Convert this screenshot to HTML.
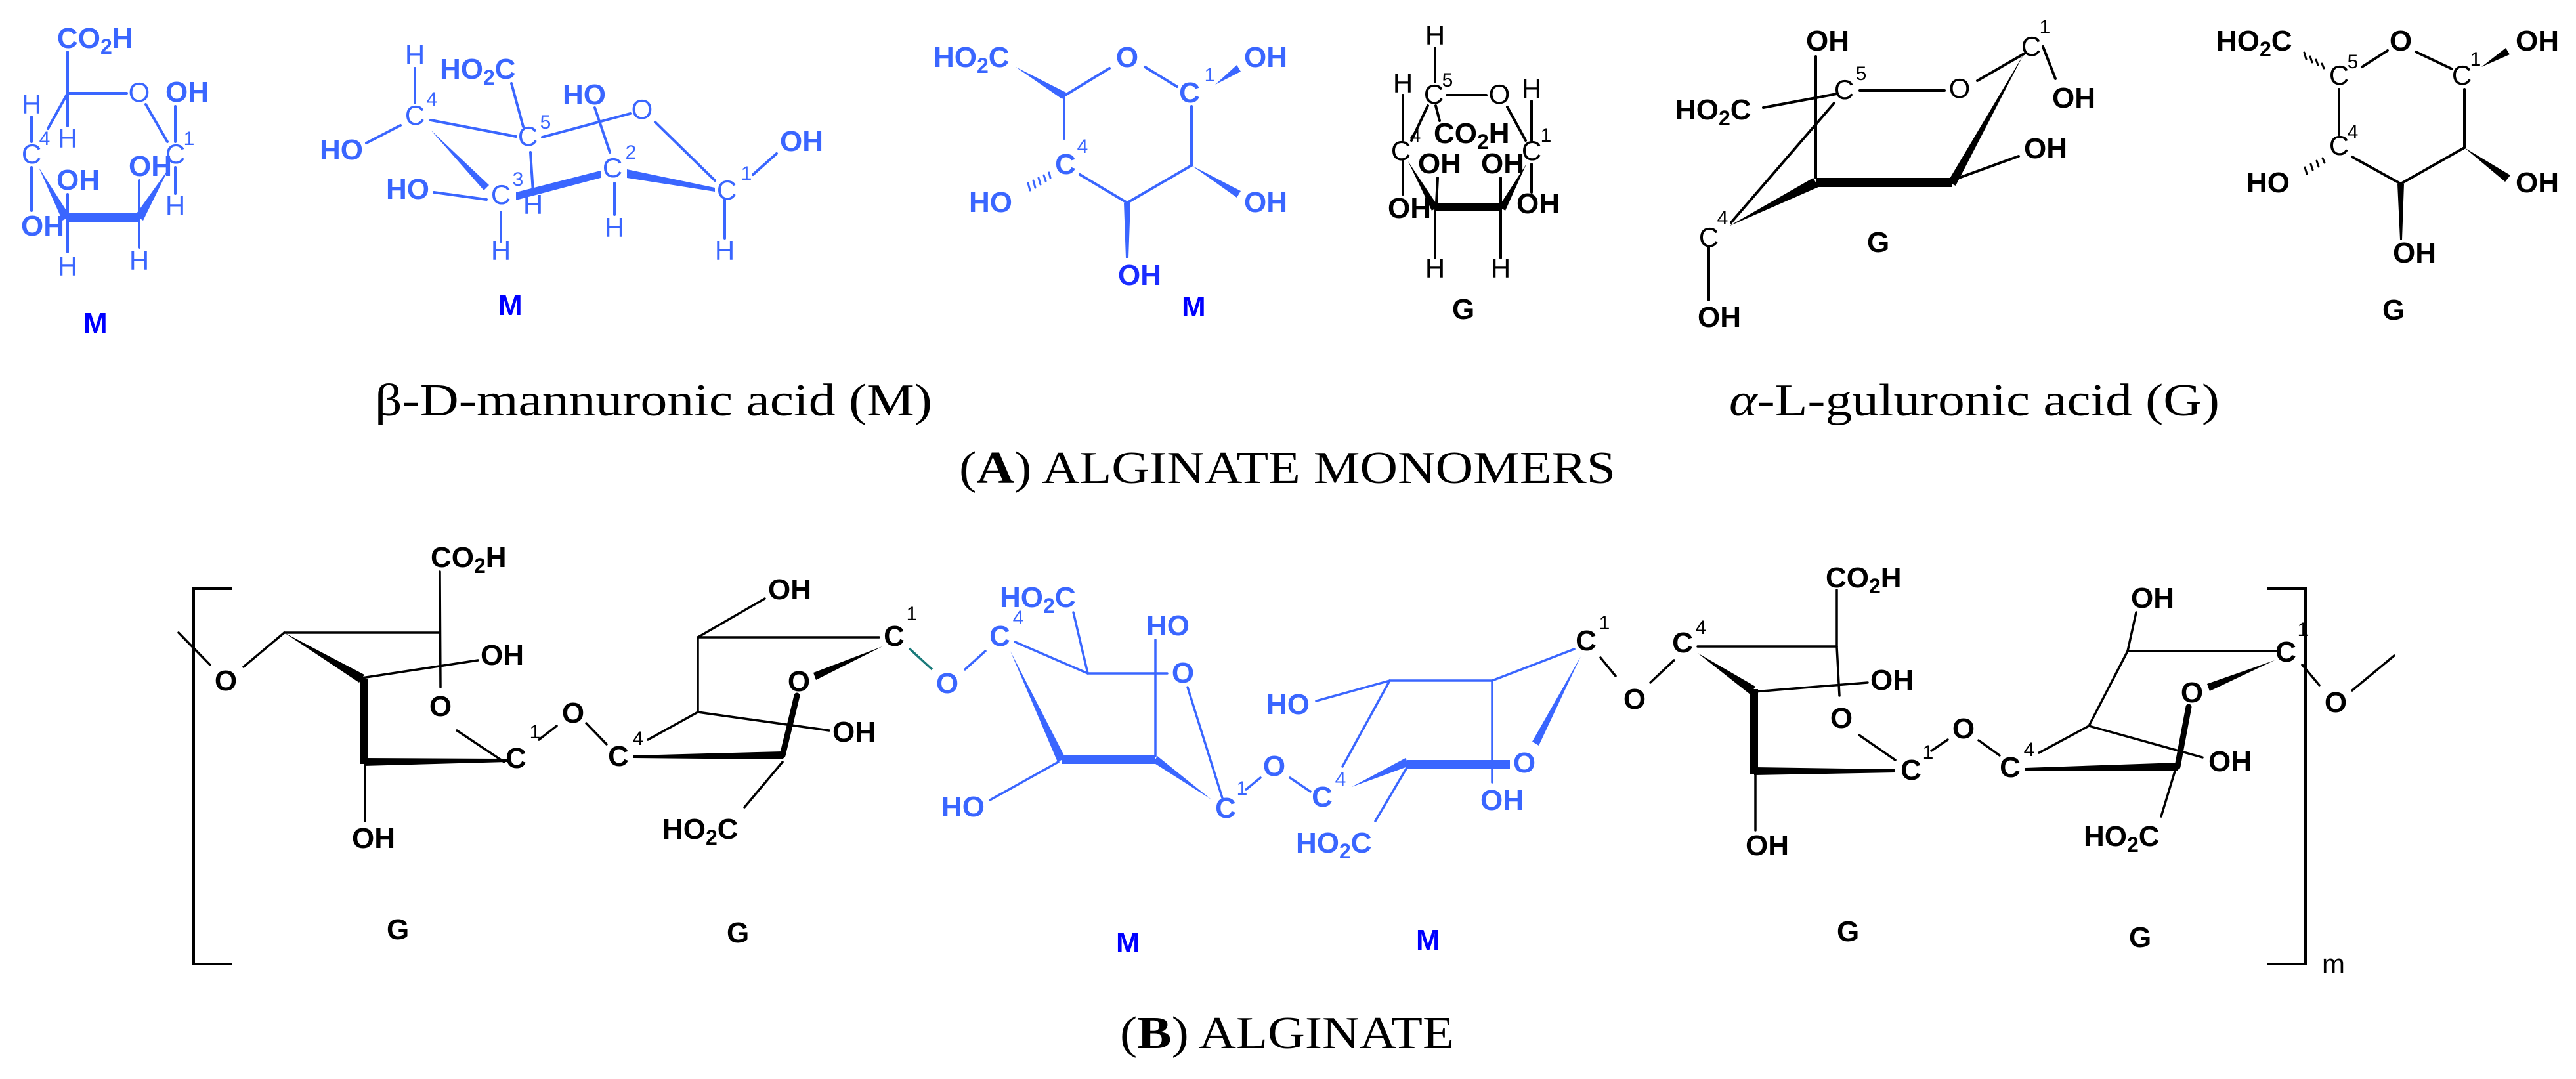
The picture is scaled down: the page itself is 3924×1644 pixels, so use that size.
<!DOCTYPE html>
<html><head><meta charset="utf-8"><style>
html,body{margin:0;padding:0;background:#fff;}
svg{display:block}
.b{font-family:"Liberation Sans",sans-serif;font-weight:bold;font-size:44px}
.r{font-family:"Liberation Sans",sans-serif;font-size:42px}
.s{font-family:"Liberation Sans",sans-serif;font-size:30px}
.cap{font-family:"Liberation Serif",serif;font-size:70px}
.bl{fill:#3a66ff}
.k{fill:#000}
.lab{fill:#0000ff;font-family:"Liberation Sans",sans-serif;font-weight:bold;font-size:44px}
</style></head><body>
<svg width="3924" height="1644" viewBox="0 0 3924 1644" xmlns="http://www.w3.org/2000/svg">
<rect width="3924" height="1644" fill="#fff"/>

<!-- ========== STRUCTURE 1 (blue) ========== -->
<g stroke="#3a66ff" stroke-width="4" fill="none" stroke-linecap="round">
<line x1="103" y1="79" x2="103" y2="192"/>
<line x1="103" y1="142" x2="193" y2="142"/>
<line x1="103" y1="142" x2="73" y2="196"/>
<line x1="48" y1="178" x2="48" y2="216"/>
<line x1="222" y1="159" x2="255" y2="216"/>
<line x1="267" y1="162" x2="267" y2="216"/>
<line x1="267" y1="255" x2="267" y2="295"/>
<line x1="48" y1="255" x2="48" y2="321"/>
<line x1="103" y1="296" x2="103" y2="325"/>
<line x1="103" y1="339" x2="103" y2="384"/>
<line x1="212" y1="275" x2="212" y2="322"/>
<line x1="212" y1="336" x2="212" y2="377"/>
</g>
<g fill="#3a66ff">
<polygon points="59,255 107,330 95,336"/>
<polygon points="257,257 218,336 206,328"/>
<rect x="101" y="325" width="113" height="14"/>
</g>
<g class="bl">
<text class="b" x="87" y="73">CO<tspan font-size="32" dy="9">2</tspan><tspan dy="-9">H</tspan></text>
<text class="r" x="212" y="155" text-anchor="middle">O</text>
<text class="b" x="252" y="155">OH</text>
<text class="r" x="48" y="173" text-anchor="middle">H</text>
<text class="r" x="103" y="225" text-anchor="middle">H</text>
<text class="r" x="48" y="249" text-anchor="middle">C</text>
<text class="s" x="68" y="221" text-anchor="middle">4</text>
<text class="r" x="267" y="249" text-anchor="middle">C</text>
<text class="s" x="288" y="221" text-anchor="middle">1</text>
<text class="r" x="267" y="328" text-anchor="middle">H</text>
<text class="b" x="32" y="359">OH</text>
<text class="b" x="86" y="289">OH</text>
<text class="r" x="103" y="420" text-anchor="middle">H</text>
<text class="b" x="196" y="268">OH</text>
<text class="r" x="212" y="411" text-anchor="middle">H</text>
</g>
<text class="lab" x="127" y="507">M</text>

<!-- ========== STRUCTURE 2 (blue chair) ========== -->
<g stroke="#3a66ff" stroke-width="4" fill="none" stroke-linecap="round">
<line x1="632" y1="104" x2="632" y2="157"/>
<line x1="779" y1="127" x2="797" y2="193"/>
<line x1="558" y1="218" x2="610" y2="191"/>
<line x1="656" y1="183" x2="786" y2="208"/>
<line x1="661" y1="293" x2="741" y2="304"/>
<line x1="808" y1="232" x2="812" y2="293"/>
<line x1="763" y1="323" x2="763" y2="368"/>
<line x1="906" y1="164" x2="929" y2="232"/>
<line x1="826" y1="209" x2="960" y2="173"/>
<line x1="998" y1="186" x2="1089" y2="275"/>
<line x1="936" y1="279" x2="936" y2="327"/>
<line x1="1147" y1="266" x2="1183" y2="234"/>
<line x1="1104" y1="304" x2="1104" y2="363"/>
</g>
<g fill="#3a66ff">
<polygon points="656,198 737,290 745,282"/>
<polygon points="786,293 915,260 915,271 786,305"/>
<polygon points="955,258 1089,286 1089,292 955,271"/>
</g>
<g class="bl">
<text class="r" x="632" y="98" text-anchor="middle">H</text>
<text class="b" x="670" y="120">HO<tspan font-size="32" dy="9">2</tspan><tspan dy="-9">C</tspan></text>
<text class="r" x="632" y="190" text-anchor="middle">C</text>
<text class="s" x="658" y="161" text-anchor="middle">4</text>
<text class="r" x="804" y="222" text-anchor="middle">C</text>
<text class="s" x="831" y="196" text-anchor="middle">5</text>
<text class="b" x="487" y="243">HO</text>
<text class="r" x="763" y="311" text-anchor="middle">C</text>
<text class="s" x="789" y="283" text-anchor="middle">3</text>
<text class="b" x="588" y="303">HO</text>
<text class="r" x="812" y="326" text-anchor="middle">H</text>
<text class="r" x="763" y="396" text-anchor="middle">H</text>
<text class="r" x="933" y="270" text-anchor="middle">C</text>
<text class="s" x="961" y="242" text-anchor="middle">2</text>
<text class="b" x="857" y="159">HO</text>
<text class="r" x="978" y="181" text-anchor="middle">O</text>
<text class="r" x="936" y="361" text-anchor="middle">H</text>
<text class="r" x="1107" y="304" text-anchor="middle">C</text>
<text class="s" x="1137" y="274" text-anchor="middle">1</text>
<text class="b" x="1188" y="230">OH</text>
<text class="r" x="1104" y="396" text-anchor="middle">H</text>
</g>
<text class="lab" x="759" y="480">M</text>

<!-- ========== STRUCTURE 3 (blue Haworth-like) ========== -->
<g stroke="#3a66ff" stroke-width="4" fill="none" stroke-linecap="round">
<line x1="1621" y1="146" x2="1690" y2="104"/>
<line x1="1744" y1="102" x2="1793" y2="132"/>
<line x1="1621" y1="146" x2="1621" y2="211"/>
<line x1="1645" y1="266" x2="1717" y2="309"/>
<line x1="1717" y1="309" x2="1815" y2="252"/>
<line x1="1815" y1="162" x2="1815" y2="252"/>
<g stroke-width="3">
<line x1="1598" y1="263" x2="1600" y2="271"/>
<line x1="1590" y1="267" x2="1593" y2="276"/>
<line x1="1582" y1="271" x2="1585" y2="281"/>
<line x1="1574" y1="275" x2="1577" y2="286"/>
<line x1="1566" y1="279" x2="1569" y2="290"/>
</g>
</g>
<g fill="#3a66ff">
<polygon points="1547,102 1618,151 1624,141"/>
<polygon points="1851,129 1890,109 1884,99"/>
<polygon points="1815,252 1884,301 1890,291"/>
<polygon points="1712,309 1722,309 1719,393 1715,393"/>
</g>
<g class="bl">
<text class="b" x="1422" y="102">HO<tspan font-size="32" dy="9">2</tspan><tspan dy="-9">C</tspan></text>
<text class="b" x="1717" y="102" text-anchor="middle">O</text>
<text class="b" x="1812" y="156" text-anchor="middle">C</text>
<text class="s" x="1843" y="124" text-anchor="middle">1</text>
<text class="b" x="1895" y="102">OH</text>
<text class="b" x="1623" y="265" text-anchor="middle">C</text>
<text class="s" x="1649" y="233" text-anchor="middle">4</text>
<text class="b" x="1476" y="323">HO</text>
<text class="b" x="1895" y="323">OH</text>
</g>
<text class="b" x="1703" y="434" fill="#1a2cff">OH</text>
<text class="lab" x="1800" y="482">M</text>

<!-- ========== STRUCTURE 4 (black) ========== -->
<g stroke="#000" stroke-width="4" fill="none" stroke-linecap="round">
<line x1="2186" y1="73" x2="2186" y2="125"/>
<line x1="2137" y1="145" x2="2137" y2="213"/>
<line x1="2204" y1="145" x2="2264" y2="145"/>
<line x1="2333" y1="154" x2="2333" y2="214"/>
<line x1="2296" y1="163" x2="2324" y2="214"/>
<line x1="2175" y1="161" x2="2150" y2="214"/>
<line x1="2187" y1="161" x2="2193" y2="184"/>
<line x1="2137" y1="246" x2="2137" y2="296"/>
<line x1="2190" y1="271" x2="2188" y2="310"/>
<line x1="2286" y1="271" x2="2286" y2="310"/>
<line x1="2333" y1="250" x2="2333" y2="293"/>
<line x1="2186" y1="321" x2="2186" y2="393"/>
<line x1="2286" y1="321" x2="2286" y2="393"/>
</g>
<g fill="#000">
<polygon points="2145,246 2181,321 2191,315"/>
<polygon points="2325,250 2293,321 2283,315"/>
<rect x="2186" y="310" width="102" height="12"/>
</g>
<g class="k">
<text class="r" x="2186" y="68" text-anchor="middle">H</text>
<text class="r" x="2184" y="158" text-anchor="middle">C</text>
<text class="s" x="2205" y="132" text-anchor="middle">5</text>
<text class="r" x="2137" y="141" text-anchor="middle">H</text>
<text class="r" x="2284" y="158" text-anchor="middle">O</text>
<text class="r" x="2333" y="150" text-anchor="middle">H</text>
<text class="r" x="2333" y="244" text-anchor="middle">C</text>
<text class="s" x="2355" y="216" text-anchor="middle">1</text>
<text class="b" x="2184" y="218">CO<tspan font-size="32" dy="9">2</tspan><tspan dy="-9">H</tspan></text>
<text class="r" x="2134" y="244" text-anchor="middle">C</text>
<text class="s" x="2156" y="216" text-anchor="middle">4</text>
<text class="b" x="2114" y="332">OH</text>
<text class="b" x="2160" y="264">OH</text>
<text class="b" x="2256" y="264">OH</text>
<text class="b" x="2310" y="325">OH</text>
<text class="r" x="2186" y="423" text-anchor="middle">H</text>
<text class="r" x="2286" y="423" text-anchor="middle">H</text>
<text class="b" x="2212" y="486">G</text>
</g>

<!-- ========== STRUCTURE 5 (black chair) ========== -->
<g stroke="#000" stroke-width="4" fill="none" stroke-linecap="round">
<line x1="2766" y1="86" x2="2766" y2="271"/>
<line x1="2686" y1="164" x2="2798" y2="143"/>
<line x1="2833" y1="138" x2="2962" y2="138"/>
<line x1="3012" y1="123" x2="3083" y2="82"/>
<line x1="3112" y1="71" x2="3131" y2="120"/>
<line x1="2973" y1="275" x2="3075" y2="238"/>
<line x1="2637" y1="339" x2="2794" y2="157"/>
<line x1="2603" y1="377" x2="2603" y2="457"/>
</g>
<g fill="#000">
<polygon points="3083,82 2979,283 2967,277"/>
<polygon points="2633,345 2770,285 2762,271"/>
<rect x="2766" y="271" width="207" height="14"/>
</g>
<g class="k">
<text class="b" x="2751" y="77">OH</text>
<text class="r" x="2809" y="151" text-anchor="middle">C</text>
<text class="s" x="2835" y="122" text-anchor="middle">5</text>
<text class="b" x="2552" y="182">HO<tspan font-size="32" dy="9">2</tspan><tspan dy="-9">C</tspan></text>
<text class="r" x="2985" y="149" text-anchor="middle">O</text>
<text class="r" x="3094" y="85" text-anchor="middle">C</text>
<text class="s" x="3115" y="51" text-anchor="middle">1</text>
<text class="b" x="3126" y="164">OH</text>
<text class="b" x="3083" y="241">OH</text>
<text class="r" x="2603" y="376" text-anchor="middle">C</text>
<text class="s" x="2624" y="342" text-anchor="middle">4</text>
<text class="b" x="2586" y="498">OH</text>
<text class="b" x="2844" y="384">G</text>
</g>

<!-- ========== STRUCTURE 6 (black Haworth) ========== -->
<g stroke="#000" stroke-width="4" fill="none" stroke-linecap="round">
<line x1="3598" y1="102" x2="3637" y2="77"/>
<line x1="3680" y1="79" x2="3735" y2="105"/>
<line x1="3563" y1="136" x2="3563" y2="205"/>
<line x1="3583" y1="239" x2="3657" y2="280"/>
<line x1="3657" y1="280" x2="3754" y2="225"/>
<line x1="3754" y1="136" x2="3754" y2="225"/>
<g stroke-width="3">
<line x1="3537" y1="97" x2="3540" y2="104"/>
<line x1="3528" y1="91" x2="3531" y2="99"/>
<line x1="3519" y1="86" x2="3522" y2="95"/>
<line x1="3510" y1="80" x2="3513" y2="90"/>
<line x1="3538" y1="241" x2="3541" y2="248"/>
<line x1="3529" y1="245" x2="3532" y2="254"/>
<line x1="3520" y1="250" x2="3523" y2="259"/>
<line x1="3511" y1="255" x2="3514" y2="265"/>
</g>
</g>
<g fill="#000">
<polygon points="3780,102 3823,83 3817,73"/>
<polygon points="3754,225 3816,277 3824,267"/>
<polygon points="3652,280 3662,280 3659,365 3656,365"/>
</g>
<g class="k">
<text class="b" x="3376" y="77">HO<tspan font-size="32" dy="9">2</tspan><tspan dy="-9">C</tspan></text>
<text class="r" x="3563" y="129" text-anchor="middle">C</text>
<text class="s" x="3584" y="104" text-anchor="middle">5</text>
<text class="b" x="3657" y="77" text-anchor="middle">O</text>
<text class="r" x="3750" y="129" text-anchor="middle">C</text>
<text class="s" x="3771" y="100" text-anchor="middle">1</text>
<text class="b" x="3832" y="77">OH</text>
<text class="r" x="3563" y="236" text-anchor="middle">C</text>
<text class="s" x="3584" y="211" text-anchor="middle">4</text>
<text class="b" x="3422" y="293">HO</text>
<text class="b" x="3832" y="293">OH</text>
<text class="b" x="3645" y="400">OH</text>
<text class="b" x="3629" y="487">G</text>
</g>

<!-- ========== CAPTIONS ========== -->
<text class="cap" x="571" y="633" textLength="849" lengthAdjust="spacingAndGlyphs">β-D-mannuronic acid (M)</text>
<text class="cap" x="2634" y="633" textLength="747" lengthAdjust="spacingAndGlyphs"><tspan font-style="italic">α</tspan>-L-guluronic acid (G)</text>
<text class="cap" x="1461" y="736" textLength="1000" lengthAdjust="spacingAndGlyphs">(<tspan font-weight="bold">A</tspan>) ALGINATE MONOMERS</text>
<text class="cap" x="1706" y="1597" textLength="509" lengthAdjust="spacingAndGlyphs">(<tspan font-weight="bold">B</tspan>) ALGINATE</text>

<!-- ========== SECTION B ========== -->
<!-- brackets -->
<g stroke="#000" stroke-width="4" fill="none">
<polyline points="353,897 295,897 295,1469 353,1469"/>
<polyline points="3454,897 3512,897 3512,1469 3454,1469"/>
</g>
<text class="r" x="3537" y="1483" font-size="30">m</text>

<!-- B1 G -->
<g stroke="#000" stroke-width="3.5" fill="none" stroke-linecap="round">
<line x1="272" y1="964" x2="320" y2="1013"/>
<line x1="371" y1="1016" x2="433" y2="964"/>
<line x1="433" y1="964" x2="669" y2="964"/>
<line x1="551" y1="1033" x2="728" y2="1006"/>
<line x1="670" y1="871" x2="671" y2="1047"/>
<line x1="696" y1="1113" x2="768" y2="1161"/>
<line x1="556" y1="1161" x2="556" y2="1251"/>
<line x1="821" y1="1127" x2="848" y2="1106"/>
<line x1="893" y1="1102" x2="924" y2="1134"/>
</g>
<g fill="#000">
<polygon points="433,964 547,1040 555,1028"/>
<rect x="548" y="1034" width="12" height="130"/>
<polygon points="554,1155 772,1156 772,1161 554,1167"/>
</g>
<g class="k">
<text class="b" x="344" y="1052" text-anchor="middle">O</text>
<text class="b" x="732" y="1013">OH</text>
<text class="b" x="656" y="864">CO<tspan font-size="32" dy="9">2</tspan><tspan dy="-9">H</tspan></text>
<text class="b" x="671" y="1091" text-anchor="middle">O</text>
<text class="b" x="786" y="1170" text-anchor="middle">C</text>
<text class="s" x="815" y="1125" text-anchor="middle">1</text>
<text class="b" x="536" y="1292">OH</text>
<text class="b" x="873" y="1101" text-anchor="middle">O</text>
<text class="b" x="942" y="1167" text-anchor="middle">C</text>
<text class="s" x="972" y="1135" text-anchor="middle">4</text>
<text class="b" x="589" y="1431">G</text>
</g>

<!-- B2 G -->
<g stroke="#000" stroke-width="3.5" fill="none" stroke-linecap="round">
<line x1="987" y1="1127" x2="1063" y2="1085"/>
<line x1="1063" y1="1085" x2="1063" y2="971"/>
<line x1="1063" y1="971" x2="1165" y2="912"/>
<line x1="1063" y1="971" x2="1339" y2="971"/>
<line x1="1063" y1="1085" x2="1263" y2="1113"/>
<line x1="1192" y1="1161" x2="1134" y2="1230"/>
<line x1="1192" y1="1151" x2="1214" y2="1060" stroke-width="9"/>
</g>
<line x1="1385" y1="988" x2="1420" y2="1020" stroke="#1a7a7a" stroke-width="3.5"/>
<g fill="#000">
<polygon points="964,1151 1192,1145 1192,1157 964,1155"/>
<polygon points="1344,985 1243,1036 1239,1025"/>
</g>
<g class="k">
<text class="b" x="1170" y="913">OH</text>
<text class="b" x="1362" y="984" text-anchor="middle">C</text>
<text class="s" x="1389" y="945" text-anchor="middle">1</text>
<text class="b" x="1268" y="1130">OH</text>
<text class="b" x="1217" y="1053" text-anchor="middle">O</text>
<text class="b" x="1009" y="1278">HO<tspan font-size="32" dy="9">2</tspan><tspan dy="-9">C</tspan></text>
<text class="b" x="1107" y="1436">G</text>
</g>

<!-- B3 M blue -->
<g stroke="#3a66ff" stroke-width="3.5" fill="none" stroke-linecap="round">
<line x1="1470" y1="1020" x2="1501" y2="992"/>
<line x1="1635" y1="933" x2="1657" y2="1026"/>
<line x1="1546" y1="978" x2="1657" y2="1026"/>
<line x1="1657" y1="1026" x2="1778" y2="1026"/>
<line x1="1760" y1="975" x2="1760" y2="1152"/>
<line x1="1809" y1="1047" x2="1862" y2="1216"/>
<line x1="1612" y1="1161" x2="1508" y2="1219"/>
<line x1="1898" y1="1203" x2="1920" y2="1185"/>
<line x1="1965" y1="1185" x2="1996" y2="1206"/>
</g>
<g fill="#3a66ff">
<polygon points="1539,992 1611,1161 1623,1155"/>
<rect x="1617" y="1151" width="143" height="13"/>
<polygon points="1845,1218 1757,1162 1763,1152"/>
</g>
<g class="bl">
<text class="b" x="1443" y="1056" text-anchor="middle">O</text>
<text class="b" x="1523" y="984" text-anchor="middle">C</text>
<text class="s" x="1551" y="951" text-anchor="middle">4</text>
<text class="b" x="1523" y="925">HO<tspan font-size="32" dy="9">2</tspan><tspan dy="-9">C</tspan></text>
<text class="b" x="1746" y="968">HO</text>
<text class="b" x="1802" y="1040" text-anchor="middle">O</text>
<text class="b" x="1434" y="1244">HO</text>
<text class="b" x="1867" y="1246" text-anchor="middle">C</text>
<text class="s" x="1892" y="1211" text-anchor="middle">1</text>
<text class="b" x="1941" y="1182" text-anchor="middle">O</text>
<text class="b" x="2014" y="1229" text-anchor="middle">C</text>
<text class="s" x="2042" y="1197" text-anchor="middle">4</text>
</g>
<text class="lab" x="1700" y="1451">M</text>

<!-- B4 M blue -->
<g stroke="#3a66ff" stroke-width="3.5" fill="none" stroke-linecap="round">
<line x1="2144" y1="1168" x2="2095" y2="1251"/>
<line x1="2045" y1="1168" x2="2117" y2="1037"/>
<line x1="2117" y1="1037" x2="2005" y2="1068"/>
<line x1="2117" y1="1037" x2="2273" y2="1037"/>
<line x1="2273" y1="1037" x2="2273" y2="1192"/>
<line x1="2273" y1="1037" x2="2398" y2="989"/>
</g>
<g fill="#3a66ff">
<polygon points="2059,1199 2147,1167 2141,1155"/>
<rect x="2144" y="1158" width="156" height="13"/>
<polygon points="2408,1000 2344,1136 2334,1130"/>
</g>
<g class="bl">
<text class="b" x="2322" y="1177" text-anchor="middle">O</text>
<text class="b" x="1974" y="1299">HO<tspan font-size="32" dy="9">2</tspan><tspan dy="-9">C</tspan></text>
<text class="b" x="1929" y="1088">HO</text>
<text class="b" x="2255" y="1234">OH</text>
</g>
<text class="lab" x="2157" y="1447">M</text>

<!-- link M -> G -->
<g stroke="#000" stroke-width="3.5" fill="none" stroke-linecap="round">
<line x1="2438" y1="1002" x2="2461" y2="1030"/>
<line x1="2514" y1="1040" x2="2550" y2="1006"/>
</g>
<g class="k">
<text class="b" x="2416" y="991" text-anchor="middle">C</text>
<text class="s" x="2444" y="959" text-anchor="middle">1</text>
<text class="b" x="2490" y="1080" text-anchor="middle">O</text>
<text class="b" x="2563" y="994" text-anchor="middle">C</text>
<text class="s" x="2591" y="966" text-anchor="middle">4</text>
</g>

<!-- B5 G -->
<g stroke="#000" stroke-width="3.5" fill="none" stroke-linecap="round">
<line x1="2586" y1="985" x2="2798" y2="985"/>
<line x1="2672" y1="1054" x2="2845" y2="1040"/>
<line x1="2798" y1="899" x2="2798" y2="985"/>
<line x1="2798" y1="985" x2="2802" y2="1060"/>
<line x1="2832" y1="1120" x2="2887" y2="1158"/>
<line x1="2674" y1="1175" x2="2674" y2="1265"/>
<line x1="2942" y1="1144" x2="2967" y2="1127"/>
<line x1="3014" y1="1128" x2="3046" y2="1151"/>
</g>
<g fill="#000">
<polygon points="2586,995 2666,1058 2674,1046"/>
<rect x="2666" y="1050" width="12" height="130"/>
<polygon points="2672,1169 2887,1172 2887,1177 2672,1181"/>
</g>
<g class="k">
<text class="b" x="2849" y="1051">OH</text>
<text class="b" x="2781" y="895">CO<tspan font-size="32" dy="9">2</tspan><tspan dy="-9">H</tspan></text>
<text class="b" x="2805" y="1109" text-anchor="middle">O</text>
<text class="b" x="2911" y="1188" text-anchor="middle">C</text>
<text class="s" x="2937" y="1156" text-anchor="middle">1</text>
<text class="b" x="2659" y="1303">OH</text>
<text class="b" x="2991" y="1125" text-anchor="middle">O</text>
<text class="b" x="3062" y="1184" text-anchor="middle">C</text>
<text class="s" x="3091" y="1152" text-anchor="middle">4</text>
<text class="b" x="2798" y="1434">G</text>
</g>

<!-- B6 G -->
<g stroke="#000" stroke-width="3.5" fill="none" stroke-linecap="round">
<line x1="3106" y1="1147" x2="3182" y2="1106"/>
<line x1="3182" y1="1106" x2="3241" y2="992"/>
<line x1="3241" y1="992" x2="3254" y2="933"/>
<line x1="3241" y1="992" x2="3469" y2="992"/>
<line x1="3182" y1="1106" x2="3355" y2="1154"/>
<line x1="3313" y1="1175" x2="3292" y2="1244"/>
<line x1="3317" y1="1168" x2="3334" y2="1077" stroke-width="9"/>
<line x1="3507" y1="1013" x2="3533" y2="1044"/>
<line x1="3583" y1="1052" x2="3647" y2="999"/>
</g>
<g fill="#000">
<polygon points="3085,1170 3317,1162 3317,1174 3085,1174"/>
<polygon points="3465,1006 3366,1053 3362,1042"/>
</g>
<g class="k">
<text class="b" x="3246" y="926">OH</text>
<text class="b" x="3482" y="1008" text-anchor="middle">C</text>
<text class="s" x="3508" y="969" text-anchor="middle">1</text>
<text class="b" x="3364" y="1175">OH</text>
<text class="b" x="3339" y="1070" text-anchor="middle">O</text>
<text class="b" x="3174" y="1289">HO<tspan font-size="32" dy="9">2</tspan><tspan dy="-9">C</tspan></text>
<text class="b" x="3558" y="1085" text-anchor="middle">O</text>
<text class="b" x="3243" y="1443">G</text>
</g>
</svg>
</body></html>
